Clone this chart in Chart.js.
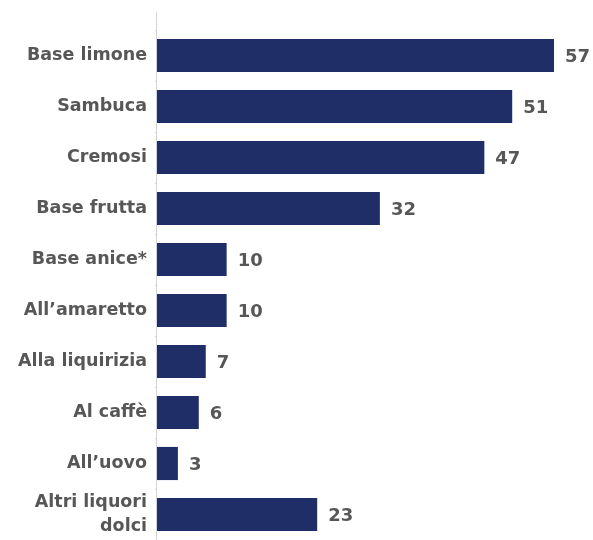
<!DOCTYPE html>
<html>
<head>
<meta charset="utf-8">
<script src="https://cdn.jsdelivr.net/npm/chart.js@4/dist/chart.umd.min.js"></script>
<style>
  html, body { margin: 0; padding: 0; background: #fff; }
  #wrap { width: 593px; height: 540px; position: relative; }
</style>
</head>
<body>
<div id="wrap"><canvas id="chart"></canvas></div>
<script>
// Categories and values
const categories = [
    'Base limone', 'Sambuca', 'Cremosi', 'Base frutta', 'Base anice*',
    'All\u2019amaretto', 'Alla liquirizia', 'Al caff\u00e8', 'All\u2019uovo',
    ['Altri liquori', 'dolci']
];
const values = [57, 51, 47, 32, 10, 10, 7, 6, 3, 23];
const axisMax = 62.6;

const BAR_COLOR = '#202e68';
const TEXT_COLOR = '#575757';
const FONT = '"DejaVu Sans", sans-serif';

// Draws the value next to each bar
const valueLabels = {
    id: 'valueLabels',
    afterDatasetsDraw(chart) {
        const ctx = chart.ctx;
        const meta = chart.getDatasetMeta(0);
        ctx.save();
        ctx.font = 'bold 18px ' + FONT;
        ctx.fillStyle = TEXT_COLOR;
        ctx.textAlign = 'left';
        ctx.textBaseline = 'middle';
        meta.data.forEach((bar, i) => {
            ctx.fillText(values[i], bar.x + 11, bar.y + 2);
        });
        ctx.restore();
    }
};

// Vertical axis line, a bit taller than the plot area
const axisLine = {
    id: 'axisLine',
    beforeDatasetsDraw(chart) {
        const ctx = chart.ctx;
        const x = Math.round(chart.scales.x.getPixelForValue(0)) - 0.5;
        ctx.save();
        ctx.strokeStyle = '#d4d4d4';
        ctx.lineWidth = 1;
        ctx.beginPath();
        ctx.moveTo(x, chart.chartArea.top - 18);
        ctx.lineTo(x, chart.chartArea.bottom);
        ctx.stroke();
        ctx.restore();
    }
};

new Chart(document.getElementById('chart'), {
    type: 'bar',
    data: {
        labels: categories,
        datasets: [{
            data: values,
            backgroundColor: BAR_COLOR,
            borderWidth: 0,
            categoryPercentage: 1,
            barPercentage: 0.65
        }]
    },
    options: {
        indexAxis: 'y',
        responsive: true,
        maintainAspectRatio: false,
        animation: false,
        layout: { padding: { top: 30, right: 0, bottom: 0, left: 0 } },
        plugins: {
            legend: { display: false },
            tooltip: { enabled: false }
        },
        scales: {
            x: {
                display: false,
                min: 0,
                max: axisMax
            },
            y: {
                afterFit(scale) {
                    scale.width = 157;
                    scale.paddingTop = 0;
                    scale.paddingBottom = 0;
                },
                border: { display: false },
                grid: {
                    drawOnChartArea: false,
                    tickLength: 2,
                    color: '#d4d4d4'
                },
                ticks: {
                    color: TEXT_COLOR,
                    padding: 8,
                    font: { family: FONT, size: 17.5, weight: 'bold', lineHeight: 1.37 }
                }
            }
        }
    },
    plugins: [axisLine, valueLabels]
});
</script>
</body>
</html>
